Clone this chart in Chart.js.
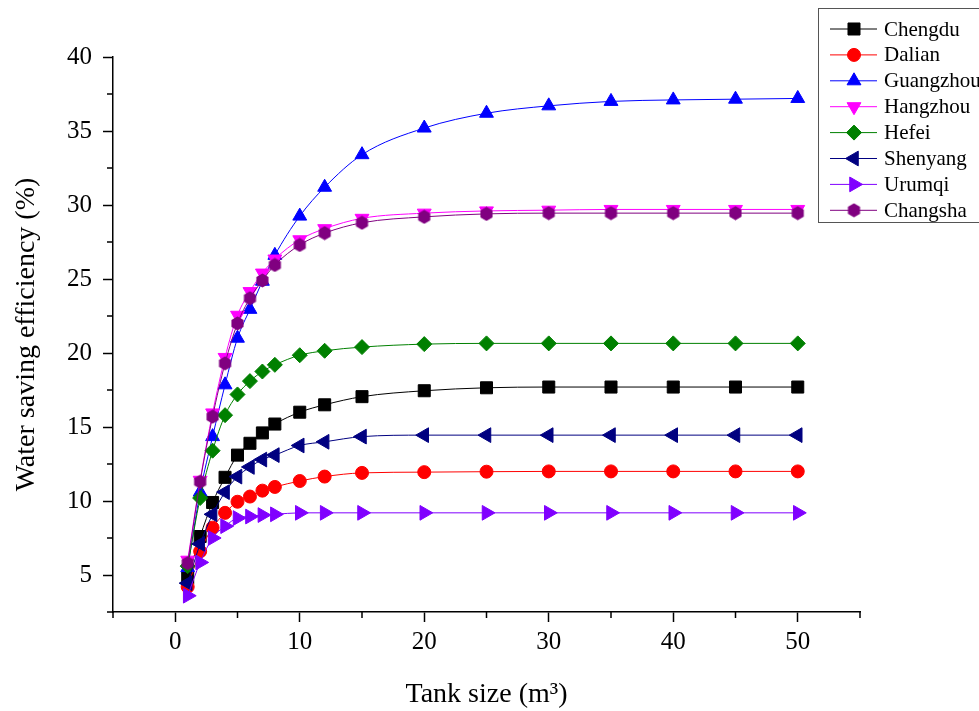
<!DOCTYPE html>
<html>
<head>
<meta charset="utf-8">
<script src="https://cdn.jsdelivr.net/npm/chart.js@4"></script>
<style>
    body { margin: 0; background: #fff; }
</style>
</head>
<body>
<canvas id="myChart" width="979" height="711"></canvas>
<script>
// DATA
const tankSizes = [1, 2, 3, 4, 5, 6, 7, 8, 10, 12, 15, 20, 25, 30, 35, 40, 45, 50];

const chengdu   = [4.8, 7.6, 9.9, 11.6, 13.1, 13.9, 14.6, 15.2, 16.0, 16.5, 17.05, 17.45, 17.65, 17.7, 17.7, 17.7, 17.7, 17.7];
const dalian    = [4.2, 6.6, 8.2, 9.2, 9.95, 10.3, 10.7, 10.95, 11.35, 11.65, 11.9, 11.95, 11.98, 12.0, 12.0, 12.0, 12.0, 12.0];
const guangzhou = [5.5, 10.6, 14.35, 17.85, 21.0, 22.95, 24.85, 26.6, 29.25, 31.2, 33.4, 35.2, 36.2, 36.7, 37.0, 37.1, 37.15, 37.2];
const hangzhou  = [6.0, 11.4, 15.95, 19.7, 22.55, 24.15, 25.4, 26.35, 27.65, 28.4, 29.1, 29.45, 29.6, 29.65, 29.7, 29.7, 29.7, 29.7];
const hefei     = [5.6, 10.2, 13.4, 15.8, 17.2, 18.1, 18.75, 19.2, 19.85, 20.15, 20.4, 20.6, 20.65, 20.65, 20.65, 20.65, 20.65, 20.65];
const shenyang  = [4.45, 7.1, 9.1, 10.6, 11.65, 12.3, 12.8, 13.1, 13.75, 14.0, 14.35, 14.45, 14.45, 14.45, 14.45, 14.45, 14.45, 14.45];
const urumqi    = [3.6, 5.85, 7.5, 8.3, 8.85, 8.95, 9.05, 9.1, 9.2, 9.2, 9.2, 9.2, 9.2, 9.2, 9.2, 9.2, 9.2, 9.2];
const changsha  = [5.8, 11.3, 15.7, 19.3, 22.0, 23.7, 24.9, 25.95, 27.3, 28.1, 28.8, 29.2, 29.4, 29.45, 29.45, 29.45, 29.45, 29.45];

const cities = ['Chengdu', 'Dalian', 'Guangzhou', 'Hangzhou', 'Hefei', 'Shenyang', 'Urumqi', 'Changsha'];
const series = [chengdu, dalian, guangzhou, hangzhou, hefei, shenyang, urumqi, changsha];

const xTicks = [0, 10, 20, 30, 40, 50];
const yTicks = [5, 10, 15, 20, 25, 30, 35, 40];

const FONT = "'Liberation Serif', 'Times New Roman', serif";

// hexagon marker for Changsha (no built-in style)
function makeHexagon(color, size) {
    const c = document.createElement('canvas');
    c.width = size;
    c.height = size;
    const g = c.getContext('2d');
    const r = size / 2;
    g.beginPath();
    for (let i = 0; i < 6; i++) {
        const a = Math.PI / 2 + i * Math.PI / 3;
        const px = r + Math.cos(a) * (r - 0.5);
        const py = r - Math.sin(a) * (r - 0.5);
        if (i === 0) g.moveTo(px, py); else g.lineTo(px, py);
    }
    g.closePath();
    g.fillStyle = color;
    g.fill();
    return c;
}

const styles = [
    { color: '#000000', point: 'rect', radius: 8.5, rotation: 0 },
    { color: '#ff0000', point: 'circle', radius: 6.5, rotation: 0 },
    { color: '#0000ff', point: 'triangle', radius: 8, rotation: 0 },
    { color: '#ff00ff', point: 'triangle', radius: 8, rotation: 180 },
    { color: '#008000', point: 'rectRot', radius: 7.5, rotation: 0 },
    { color: '#000080', point: 'triangle', radius: 8.5, rotation: -90 },
    { color: '#8000ff', point: 'triangle', radius: 8.5, rotation: 90 },
    { color: '#800080', point: makeHexagon('#800080', 15), radius: 7.5, rotation: 0 }
];

// 📏 MINOR TICKS (shorter than the labelled ones)
const minorTicks = {
    id: 'minorTicks',
    afterDraw(chart) {
        const ctx = chart.ctx;
        const xs = chart.scales.x;
        const ys = chart.scales.y;
        ctx.save();
        ctx.strokeStyle = '#000';
        ctx.lineWidth = 1.5;
        ctx.beginPath();
        xs.ticks.forEach(function (t) {
            if (xTicks.includes(t.value)) return;
            const px = xs.getPixelForValue(t.value);
            ctx.moveTo(px, xs.top);
            ctx.lineTo(px, xs.top + 6);
        });
        ys.ticks.forEach(function (t) {
            if (yTicks.includes(t.value)) return;
            const py = ys.getPixelForValue(t.value);
            ctx.moveTo(ys.right, py);
            ctx.lineTo(ys.right - 6, py);
        });
        ctx.stroke();
        ctx.restore();
    }
};

// 📋 LEGEND BOX (line through marker, like the original)
const legendBox = {
    id: 'legendBox',
    afterDraw(chart) {
        const ctx = chart.ctx;
        ctx.save();
        ctx.fillStyle = '#fff';
        ctx.fillRect(818, 8, 170, 214);
        ctx.strokeStyle = '#555';
        ctx.lineWidth = 1;
        ctx.strokeRect(818.5, 8.5, 170, 214);

        ctx.font = '21px ' + FONT;
        ctx.textBaseline = 'middle';
        cities.forEach(function (name, i) {
            const s = styles[i];
            const y = 29 + i * 25.9;
            ctx.strokeStyle = s.color;
            ctx.lineWidth = 1;
            ctx.beginPath();
            ctx.moveTo(830, y);
            ctx.lineTo(877, y);
            ctx.stroke();
            ctx.fillStyle = s.color;
            Chart.helpers.drawPoint(ctx, {
                pointStyle: s.point,
                rotation: s.rotation,
                radius: s.radius,
                borderWidth: 1
            }, 854, y);
            ctx.fillStyle = '#000';
            ctx.fillText(name, 884, y + 1);
        });
        ctx.restore();
    }
};

function majorTickColor(list) {
    return function (c) {
        return c.tick && list.includes(c.tick.value) ? '#000' : 'rgba(0,0,0,0)';
    };
}

// 📊 CHART
window.addEventListener("load", function () {
    const ctx = document.getElementById("myChart").getContext("2d");

    const datasets = cities.map(function (name, i) {
        const s = styles[i];
        return {
            label: name,
            data: tankSizes.map(function (x, k) { return { x: x, y: series[i][k] }; }),
            borderColor: s.color,
            backgroundColor: s.color,
            borderWidth: 1,
            pointStyle: s.point,
            pointRotation: s.rotation,
            pointRadius: s.radius,
            pointBorderWidth: 1,
            cubicInterpolationMode: 'monotone',
            order: -i
        };
    });

    new Chart(ctx, {
        type: 'line',
        data: { datasets: datasets },
        plugins: [minorTicks, legendBox],
        options: {
            responsive: false,
            devicePixelRatio: 1,
            animation: false,
            clip: false,
            layout: { padding: { top: 57, right: 119, left: 0, bottom: 0 } },
            plugins: {
                legend: { display: false },
                tooltip: { enabled: false }
            },
            scales: {
                x: {
                    type: 'linear',
                    min: -5,
                    max: 55,
                    afterFit: function (scale) { scale.height = 99; },
                    ticks: {
                        stepSize: 5,
                        autoSkip: false,
                        maxRotation: 0,
                        padding: 5,
                        color: '#000',
                        font: { family: FONT, size: 25 },
                        callback: function (v) { return xTicks.includes(v) ? String(v) : ''; }
                    },
                    grid: {
                        drawOnChartArea: false,
                        drawTicks: true,
                        tickLength: 10,
                        tickColor: majorTickColor(xTicks),
                        tickWidth: 1.5
                    },
                    border: { color: '#000', width: 1.5 },
                    title: {
                        display: true,
                        text: 'Tank size (m³)',
                        color: '#000',
                        font: { family: FONT, size: 28 },
                        padding: { top: 4, bottom: 0 }
                    }
                },
                y: {
                    min: 2.5,
                    max: 40,
                    afterFit: function (scale) { scale.width = 113; },
                    ticks: {
                        stepSize: 2.5,
                        autoSkip: false,
                        padding: 11,
                        color: '#000',
                        font: { family: FONT, size: 25 },
                        callback: function (v) { return yTicks.includes(v) ? String(v) : ''; }
                    },
                    grid: {
                        drawOnChartArea: false,
                        drawTicks: true,
                        tickLength: 10,
                        tickColor: majorTickColor(yTicks),
                        tickWidth: 1.5
                    },
                    border: { color: '#000', width: 1.5 },
                    title: {
                        display: true,
                        text: 'Water saving efficiency (%)',
                        color: '#000',
                        font: { family: FONT, size: 28 },
                        padding: { top: 10, bottom: 0 }
                    }
                }
            }
        }
    });
});
</script>
</body>
</html>
